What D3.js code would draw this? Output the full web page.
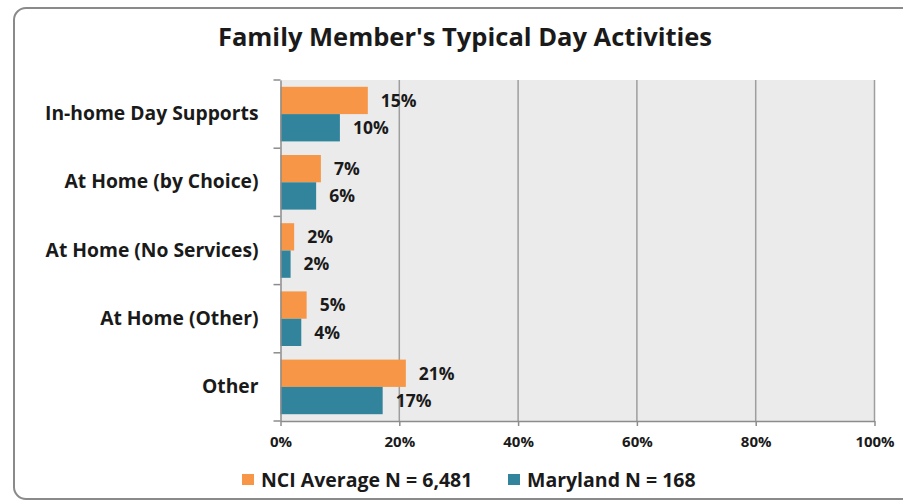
<!DOCTYPE html>
<html>
<head>
<meta charset="utf-8">
<script src="https://cdn.jsdelivr.net/npm/d3@7"></script>
<style>
  body { margin: 0; background: #fff; }
  text { font-family: "Open Sans", "Noto Sans", sans-serif; font-weight: bold; fill: #1a1a1a; }
</style>
</head>
<body>
<script>
(function(){

// categories, top to bottom
var categories = ["In-home Day Supports", "At Home (by Choice)", "At Home (No Services)", "At Home (Other)", "Other"];
// series names (legend)
var seriesNames = ["NCI Average N = 6,481", "Maryland N = 168"];
// values (fraction)
var nciValues = [0.147, 0.068, 0.023, 0.044, 0.211];
var marylandValues = [0.100, 0.060, 0.017, 0.035, 0.172];
// labels shown next to the bars
var nciLabels = ["15%", "7%", "2%", "5%", "21%"];
var marylandLabels = ["10%", "6%", "2%", "4%", "17%"];
var xTicks = [0, 0.2, 0.4, 0.6, 0.8, 1.0];

var colors = ["#F79646", "#31849B"];

var width = 903, height = 500;

var svg = d3.select("body").append("svg")
    .attr("width", width)
    .attr("height", height);

//outer chart frame, running off the right and bottom edge
svg.append("rect")
    .attr("x", 14).attr("y", 8)
    .attr("width", 905).attr("height", 491)
    .attr("rx", 12).attr("ry", 12)
    .attr("fill", "#fff")
    .attr("stroke", "#8a8a8a")
    .attr("stroke-width", 2);

//title
svg.append("text")
    .attr("x", 465).attr("y", 46)
    .attr("text-anchor", "middle")
    .style("font-size", "25.5px")
    .text("Family Member's Typical Day Activities");

var x = d3.scaleLinear().domain([0, 1]).range([280.5, 874.5]);
var y = d3.scaleBand().domain(categories).range([80, 421]);
var inner = d3.scaleBand().domain([0, 1]).range([6.8, y.bandwidth() - 6.8]);

//plot background
svg.append("rect")
    .attr("x", x(0)).attr("y", 80)
    .attr("width", x(1) - x(0)).attr("height", 421 - 80)
    .attr("fill", "#EBEBEB");

//vertical gridlines
svg.selectAll(".grid")
    .data(xTicks.slice(1))
    .enter().append("line")
    .attr("class", "grid")
    .attr("x1", function(d){ return x(d); })
    .attr("x2", function(d){ return x(d); })
    .attr("y1", 80).attr("y2", 421)
    .attr("stroke", "#9e9e9e")
    .attr("stroke-width", 1.5);

//bars
var rows = categories.map(function(c, i){
    return { cat: c, vals: [nciValues[i], marylandValues[i]], labels: [nciLabels[i], marylandLabels[i]] };
});

var groups = svg.selectAll(".cat")
    .data(rows)
    .enter().append("g")
    .attr("class", "cat")
    .attr("transform", function(d){ return "translate(0," + y(d.cat) + ")"; });

groups.selectAll("rect")
    .data(function(d){ return d.vals.map(function(v, s){ return { v: v, s: s }; }); })
    .enter().append("rect")
    .attr("x", x(0))
    .attr("y", function(d){ return inner(d.s); })
    .attr("width", function(d){ return x(d.v) - x(0); })
    .attr("height", inner.bandwidth())
    .attr("fill", function(d){ return colors[d.s]; });

groups.selectAll(".lbl")
    .data(function(d){ return d.vals.map(function(v, s){ return { v: v, s: s, t: d.labels[s] }; }); })
    .enter().append("text")
    .attr("class", "lbl")
    .attr("x", function(d){ return x(d.v) + 13; })
    .attr("y", function(d){ return inner(d.s) + inner.bandwidth() / 2; })
    .attr("dy", "0.36em")
    .style("font-size", "17.5px")
    .text(function(d){ return d.t; });

//left axis (category labels)
var yAxis = svg.append("g")
    .attr("transform", "translate(" + x(0) + ",0)")
    .call(d3.axisLeft(y).tickSize(0).tickPadding(22));
yAxis.select(".domain").attr("stroke", "#8c8c8c").attr("stroke-width", 1.5);
yAxis.selectAll("text")
    .style("font-size", "19.3px")
    .style("font-family", null)
    .attr("fill", "#1a1a1a");

//category boundary ticks
svg.selectAll(".ytick")
    .data(categories.concat([null]))
    .enter().append("line")
    .attr("class", "ytick")
    .attr("x1", x(0) - 7).attr("x2", x(0))
    .attr("y1", function(d){ return d === null ? 421 : y(d); })
    .attr("y2", function(d){ return d === null ? 421 : y(d); })
    .attr("stroke", "#8c8c8c").attr("stroke-width", 1.5);

//bottom axis
var xAxis = svg.append("g")
    .attr("transform", "translate(0,421)")
    .call(d3.axisBottom(x).tickValues(xTicks).tickFormat(d3.format(".0%")).tickSizeInner(5).tickSizeOuter(0).tickPadding(10));
xAxis.select(".domain").attr("stroke", "#8c8c8c").attr("stroke-width", 1.5);
xAxis.selectAll(".tick line").attr("stroke", "#8c8c8c").attr("stroke-width", 1.5);
xAxis.selectAll("text")
    .style("font-size", "15px")
    .style("font-family", null)
    .attr("fill", "#1a1a1a");

//legend
var legendX = [242, 508];
var legend = svg.selectAll(".legend")
    .data(seriesNames)
    .enter().append("g")
    .attr("class", "legend")
    .attr("transform", function(d, i){ return "translate(" + legendX[i] + ",474)"; });
legend.append("rect")
    .attr("width", 12).attr("height", 11)
    .attr("fill", function(d, i){ return colors[i]; });
legend.append("text")
    .attr("x", 19).attr("y", 6)
    .attr("dy", "0.36em")
    .style("font-size", "19.5px")
    .text(function(d){ return d; });

})();
</script>
</body>
</html>
